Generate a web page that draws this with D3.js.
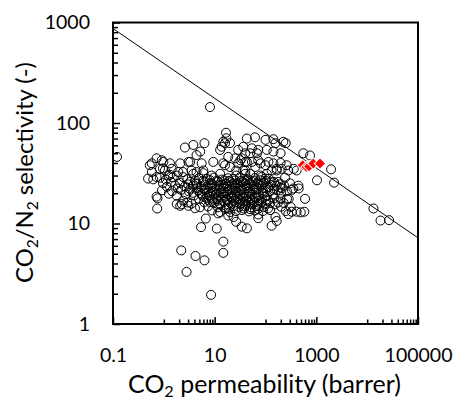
<!DOCTYPE html>
<html><head><meta charset="utf-8">
<script src="https://cdn.jsdelivr.net/npm/d3@7"></script>
<style>body{margin:0;background:#fff;} svg{display:block;}</style>
</head><body>
<svg id="chart" width="456" height="401"></svg>
<script>
// ---------- DATA ----------
// Literature polymer membranes: [CO2 permeability (barrer), CO2/N2 selectivity]
const outlierPoints = [
  [0.12,46],[8.1,144],[2.2,5.4],[2.8,3.3],[4.2,4.75],[6.3,4.3],[8.5,1.95],[5.4,9.2],[6.7,11.2],
  [11,8.9],[14.8,6.6],[14.8,5.1],[13300,14.1],[18300,10.7],[27000,10.8],[1950,34.6],[1030,26.9],
  [2230,25.5],[555,50],[750,47.5],[443,23.8],[352,22.3],[600,17.6]
];
const upperPoints = [
  [16.7,80],[17,70.5],[14.8,65],[13.7,58],[12.8,54],[16,63],[2.6,57],[3.8,60.5],[6.3,63],[5.2,52],[4.4,48],
  [43,70],[62,72],[100,68],[143,69],[224,65],[157,63],[250,63],[36.5,58],[54,56],[72,54],[106,54],[143,52],
  [198,50],[40,50],[50,50],[68,50],[20,63],[29,54],[34,44.5],[198,40],[261,38],[360,35],[410,33.7],[114,41],
  [143,39.7],[100,38],[80,39.7],[132,33.7],[166,35],[208,35],[281,33.7],[72,42.6],[18.5,46],[25.4,44.5],
  [29,39.7],[40,41],[54,41],[63,36.5],[20,36.5],[26.5,33.7],[40,33.7],[16,38],[84,29],[100,28],[132,25.9],
  [179,25.9],[198,22.7],[166,23.8],[40,31.2],[40,26.7],[54,26]
];
const leftPoints = [
  [0.72,44.5],[0.58,39.7],[0.91,42.6],[0.49,28],[0.62,27.5],[0.72,18.5],[0.96,35.3],[0.58,32.5],[0.84,35],
  [1.05,33.7],[1.32,39.7],[1.43,35],[2.1,39.7],[3.05,41],[5.55,39.7],[9.4,41],[14.8,39.7],[1.22,30],[1.8,30],
  [2.4,32.5],[3.5,33.7],[4.4,32.5],[6,31.7],[0.98,41],[0.53,38],[3.3,41],[32,42.6],[43,41],
  [0.72,29],[1.32,30.5],[1.92,32.5],[2.4,29],[3.8,31.2],[6,33.7],[8.7,30],[12.8,31.2],[26.5,30],[36.5,33.7],
  [50,31.2],[80,30],[106,31.2],[166,33.7],
  [0.75,17.8],[1.26,19.8],[1.8,18.9],[2.4,16.9],[3.05,15],[2.1,15],[1.8,15.6],[2.25,15.6],[2.9,16.2],
  [3.5,15.8],[4.1,14.2],[0.74,14.1],[5.15,14.5],[12.8,15.7],[11.7,12.6],[8.1,16.3],[11,17.5],[12.8,13],
  [16,14],[18.5,12]
];
const lowerRightPoints = [
  [450,22.3],[330,21.6],[328,13.1],[410,13.1],[494,12.9],[580,13.1],[281,12.4],[250,13.3],[313,14.6],
  [132,9.5],[166,10.6],[157,11.6],[43,8.95],[34,9.3],[26.5,10.4],[72,11.3],[72,12.3],[23.5,11.6],[20,13],
  [17,14.1],[198,17.5],[114,16.9],[106,18.9],[228,16],[286,17.6]
];
const corePoints = [
  [0.84,28.5],[1.1,27.3],[1.5,28.8],[2.9,27.6],[4.9,28.3],[7.1,27.8],[9.7,28.6],[13.9,27.4],[18.3,28.2],
  [23,27.7],[31.5,28.9],[45,27.5],[62,28.4],[117,27.9],[242,28.6],
  [0.96,25.2],[1.38,25.9],[2.1,25.3],[3.3,26],[4.3,25.1],[6.2,25.7],[8.5,25.4],[11.6,26.1],[16,25],[21,25.8],
  [27.5,25.3],[36,25.9],[50,25.2],[71,25.6],[93,25.4],[147,25.9],[303,25.1],
  [1.15,23.2],[1.66,23.9],[2.6,23.4],[3.75,23.7],[5.4,23.1],[7.4,23.8],[10.2,23.3],[13.3,23.9],[17.5,23.4],
  [24,23.6],[31.5,23.1],[43,23.8],[59,23.3],[82,23.7],[112,23.2],[231,23.9],
  [0.92,21.4],[1.45,21],[2.2,21.6],[3.1,20.9],[4.7,21.3],[6.45,21.5],[8.9,21],[12.2,21.4],[15.3,20.8],[20,21.5],
  [26.3,21.1],[34.5,21.4],[47.4,20.9],[65,21.6],[89,21.2],[123,21],[168,21.5],[265,20.9],
  [2.7,19.5],[3.9,19],[5.6,19.4],[7.7,19.1],[10.6,19.6],[14.6,19.2],[18.3,19.4],[24,19],[31.5,19.5],
  [41.4,19.2],[54,19.4],[74.5,19.1],[141,19.5],
  [4.9,17.6],[6.8,18],[9.3,17.7],[13.3,18.1],[17.5,17.6],[21.9,17.9],[28.8,17.5],[37.8,18],[49.6,17.7],
  [65,17.9],[85,17.5],[147,17.8],[265,17.6],
  [6.2,16.3],[9.7,16],[15.3,16.4],[20,16.1],[26.3,16.3],[34.5,15.9],[45,16.4],[59,16.1],[82,16.3],[123,15.9],[176,16.2],
  [7.4,14.8],[11.6,14.5],[23,14.9],[30,14.6],[39.5,14.8],[52,14.5],[68,14.9],[93,14.6],[202,14.7],
  [8.9,13.5],[26.3,13.3],[34.5,13.6],[47.4,13.2],[62,13.5],[89,13.3],[123,13.6]
];
const coreInnerPoints = [
  [4.1,26.8],[5.9,26.6],[8.1,27],[11.1,26.7],[15.3,26.9],[19.1,26.5],[25.4,26.8],[33,26.6],[43.3,27],[57,26.7],[79.5,26.9],[102,26.6],
  [3.0,24.5],[4.5,24.7],[6.45,24.4],[8.9,24.6],[12.2,24.3],[16.7,24.7],[21.9,24.5],[28.8,24.4],[37.8,24.7],[51.9,24.4],[68,24.6],[89,24.5],[128,24.3],[194,24.6],
  [1.9,22.3],[3.27,22.1],[4.5,22.4],[6.2,22.2],[8.5,22.5],[11.1,22.2],[14.6,22.4],[19.1,22.1],[25.4,22.4],[33,22.2],[43.3,22.5],[57,22.1],[74.5,22.3],[102,22.4],[147,22.2],[210,22.4],
  [3.75,20.2],[5.15,20.1],[7.1,20.3],[9.7,20],[13.3,20.3],[16.7,20.1],[21.9,20.3],[28.8,20],[37.8,20.2],[49.6,20.1],[65,20.3],[89,20.1],[202,20.2],
  [5.9,18.5],[8.1,18.4],[11.6,18.6],[16,18.4],[21,18.6],[27.5,18.5],[36,18.3],[47.4,18.6],[62,18.4],[98,18.5],
  [7.7,17],[11.6,16.9],[17.5,17.1],[24,16.9],[31.5,17.1],[41.4,16.9],[54,17.1],[74.5,16.9],[102,17],
  [12.8,15.5],[18.3,15.4],[31.5,15.6],[41.4,15.4],[54,15.5],[71,15.4],[102,15.6],[154,15.5],
  [19.1,14],[37.8,14.1],[49.6,13.9],[71,14],[112,14.1]
];
// This work (red diamonds)
const thisWork = [[540,38],[640,36.5],[720,37],[870,39.5],[1180,39.5]];
// Robeson upper bound line endpoints
const upperBound = [[0.1,870],[100000,7.2]];
// Axes
const xTickValues = [0.1, 10, 1000, 100000];
const xTickLabels = ["0.1", "10", "1000", "100000"];
const xMinorTicks = [1,2,3,4,5,6,7,8,9,100,200,300,400,500,600,700,800,900,10000,20000,30000,40000,50000,60000,70000,80000,90000];
const yTickValues = [1, 10, 100, 1000];
const yTickLabels = ["1", "10", "100", "1000"];
const yMinorTicks = [2,3,4,5,6,7,8,9,20,30,40,50,60,70,80,90,200,300,400,500,600,700,800,900];

// ---------- CHART ----------
const plot = {left: 113, right: 418, top: 22.5, bottom: 324};
const font = "Lato, 'Open Sans', sans-serif";
const svg = d3.select("#chart");

const x = d3.scaleLog().domain([0.1, 100000]).range([plot.left, plot.right]);
const y = d3.scaleLog().domain([1, 1000]).range([plot.bottom, plot.top]);

svg.append("defs").append("clipPath").attr("id", "clip")
  .append("rect").attr("x", plot.left).attr("y", plot.top)
  .attr("width", plot.right - plot.left).attr("height", plot.bottom - plot.top);

// Circles
const allPoints = [].concat(outlierPoints, upperPoints, leftPoints, lowerRightPoints, corePoints, coreInnerPoints);
svg.append("g").attr("clip-path", "url(#clip)")
  .selectAll("circle").data(allPoints).join("circle")
  .attr("cx", d => x(d[0])).attr("cy", d => y(d[1])).attr("r", 4.5)
  .attr("fill", "none").attr("stroke", "#000").attr("stroke-width", 1);

// Upper bound line
svg.append("path").attr("clip-path", "url(#clip)")
  .datum(upperBound)
  .attr("d", d3.line().x(d => x(d[0])).y(d => y(d[1])))
  .attr("fill", "none").attr("stroke", "#000").attr("stroke-width", 1);

// Diamonds
const diamond = d3.symbol().type(d3.symbolSquare).size(64);
svg.append("g").selectAll("path").data(thisWork).join("path")
  .attr("d", diamond)
  .attr("transform", d => `translate(${x(d[0])},${y(d[1])}) rotate(45)`)
  .attr("fill", "#ff0000").attr("stroke", "#ffffff").attr("stroke-width", 1);

// Axes
const xAxisMajor = d3.axisBottom(x).tickValues(xTickValues)
  .tickFormat((d, i) => xTickLabels[i]).tickSizeInner(-7).tickSizeOuter(0).tickPadding(24);
const xAxisMinor = d3.axisBottom(x).tickValues(xMinorTicks).tickFormat("").tickSizeInner(-4.5).tickSizeOuter(0);
const yAxisMajor = d3.axisLeft(y).tickValues(yTickValues)
  .tickFormat((d, i) => yTickLabels[i]).tickSizeInner(-7).tickSizeOuter(0).tickPadding(23);
const yAxisMinor = d3.axisLeft(y).tickValues(yMinorTicks).tickFormat("").tickSizeInner(-5).tickSizeOuter(0);

function styleAxis(g) {
  g.select(".domain").remove();
  g.selectAll("line").attr("stroke", "#000").attr("stroke-width", 1.5);
  g.selectAll("text").attr("font-family", font).attr("font-size", 19.5).attr("fill", "#000");
}
svg.append("g").attr("transform", `translate(0,${plot.bottom})`).call(xAxisMinor).call(styleAxis);
svg.append("g").attr("transform", `translate(0,${plot.bottom})`).call(xAxisMajor).call(styleAxis);
svg.append("g").attr("transform", `translate(${plot.left},0)`).call(yAxisMinor).call(styleAxis);
svg.append("g").attr("transform", `translate(${plot.left},0)`).call(yAxisMajor).call(styleAxis);

// Frame
svg.append("rect").attr("x", plot.left).attr("y", plot.top)
  .attr("width", plot.right - plot.left).attr("height", plot.bottom - plot.top)
  .attr("fill", "none").attr("stroke", "#000").attr("stroke-width", 2);

// Titles
function fitWidth(sel, target) {
  const w = sel.node().getComputedTextLength();
  const fs = parseFloat(sel.attr("font-size"));
  sel.attr("font-size", fs * target / w);
}
const xTitle = svg.append("text")
  .attr("x", 264.5).attr("y", 393).attr("text-anchor", "middle")
  .attr("font-family", font).attr("font-size", 24).attr("fill", "#000");
xTitle.append("tspan").text("CO");
xTitle.append("tspan").text("2").attr("font-size", "0.65em").attr("dy", "0.22em");
xTitle.append("tspan").text(" permeability (barrer)").attr("dy", "-0.143em");
fitWidth(xTitle, 273);

const yTitle = svg.append("text")
  .attr("transform", `translate(33,172.5) rotate(-90)`).attr("text-anchor", "middle")
  .attr("font-family", font).attr("font-size", 24).attr("fill", "#000");
yTitle.append("tspan").text("CO");
yTitle.append("tspan").text("2").attr("font-size", "0.65em").attr("dy", "0.3em");
yTitle.append("tspan").text("/N").attr("dy", "-0.195em");
yTitle.append("tspan").text("2").attr("font-size", "0.65em").attr("dy", "0.3em");
yTitle.append("tspan").text(" selectivity (-)").attr("dy", "-0.195em");
fitWidth(yTitle, 221);
</script>
</body></html>
